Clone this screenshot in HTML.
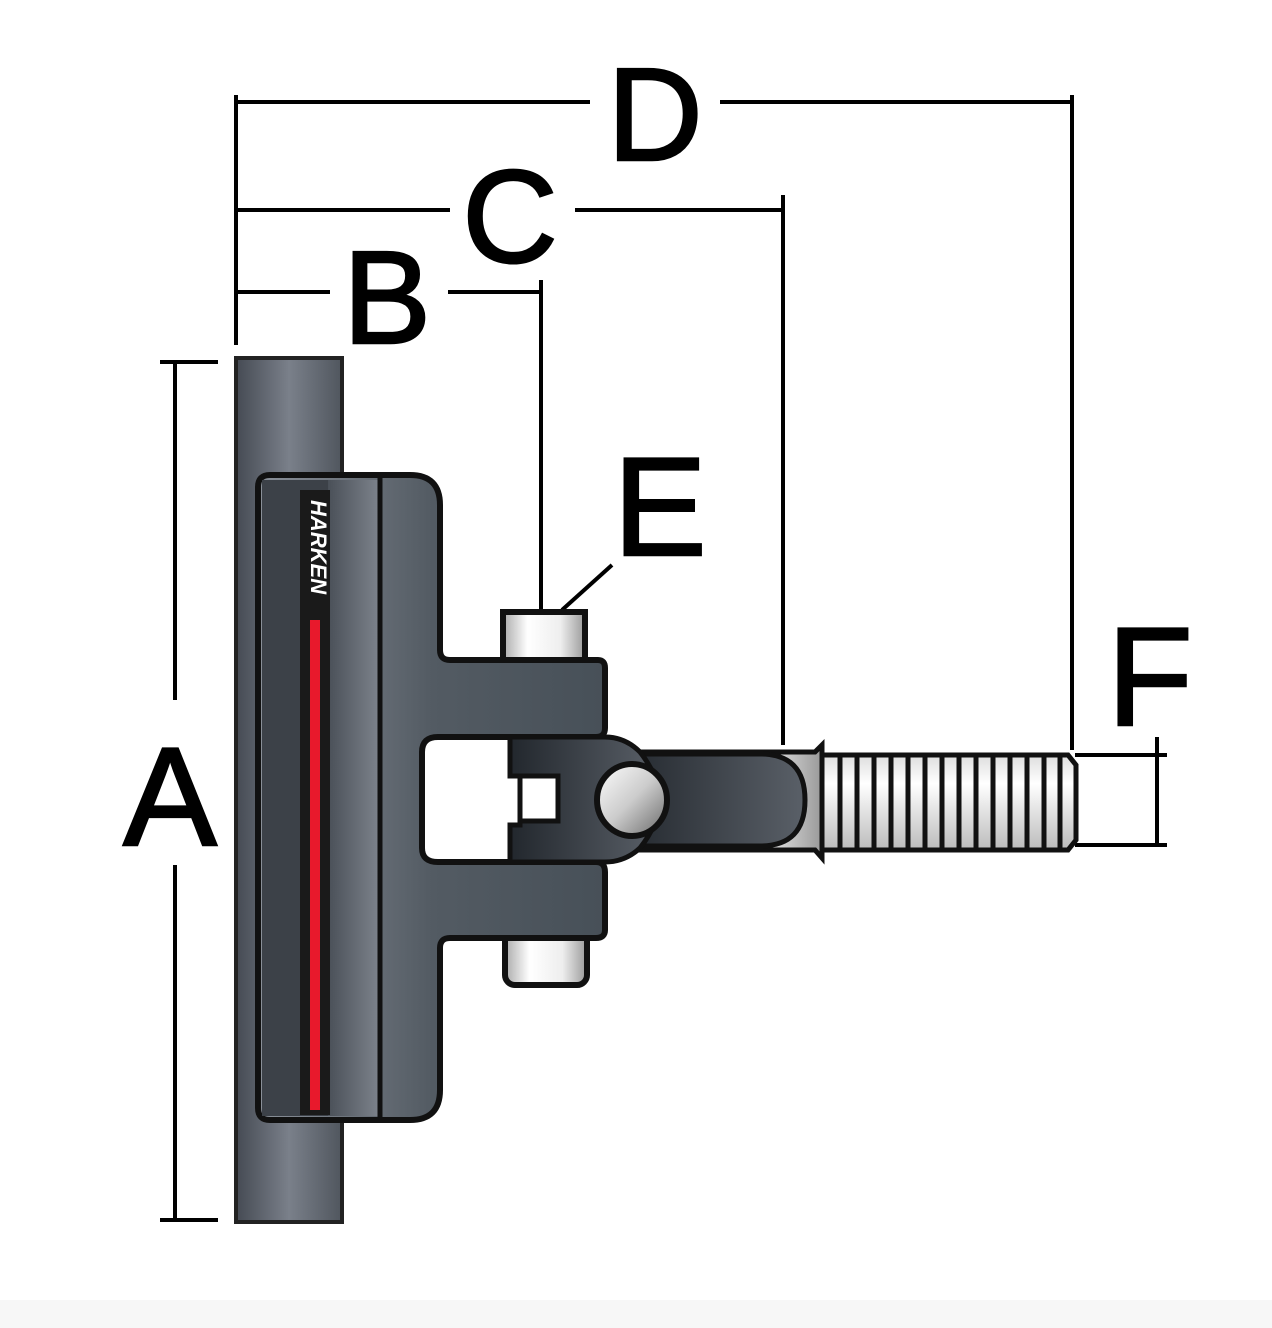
<!DOCTYPE html>
<html><head><meta charset="utf-8"><style>
html,body{margin:0;padding:0;background:#fff;}
svg{display:block;}
text{font-family:"Liberation Sans",sans-serif;fill:#000;}
.lbl{stroke:#000;stroke-width:2.5;}
</style></head><body>
<svg width="1272" height="1328" viewBox="0 0 1272 1328" xmlns="http://www.w3.org/2000/svg">
<defs>
<linearGradient id="tube" x1="0" x2="1"><stop offset="0" stop-color="#454a53"/><stop offset="0.5" stop-color="#7a808a"/><stop offset="1" stop-color="#50565e"/></linearGradient>
<linearGradient id="arm" x1="0" x2="1"><stop offset="0" stop-color="#8a9099"/><stop offset="0.5" stop-color="#535b63"/><stop offset="1" stop-color="#475058"/></linearGradient>
<linearGradient id="strip" x1="0" x2="1"><stop offset="0" stop-color="#4a5058"/><stop offset="1" stop-color="#7d838c"/></linearGradient>
<linearGradient id="dark" x1="0" x2="1"><stop offset="0" stop-color="#22272d"/><stop offset="1" stop-color="#5a6068"/></linearGradient>
<linearGradient id="metal" x1="0" x2="1"><stop offset="0" stop-color="#aaa"/><stop offset="0.3" stop-color="#fff"/><stop offset="0.7" stop-color="#eee"/><stop offset="1" stop-color="#999"/></linearGradient>
<linearGradient id="rod" x1="0" y1="0" x2="0" y2="1"><stop offset="0" stop-color="#ddd"/><stop offset="0.3" stop-color="#fff"/><stop offset="1" stop-color="#bbb"/></linearGradient>
<linearGradient id="ball" x1="0" y1="0" x2="1" y2="1"><stop offset="0" stop-color="#fff"/><stop offset="0.5" stop-color="#ccc"/><stop offset="1" stop-color="#666"/></linearGradient>
</defs>
<g stroke="#000" stroke-width="4" fill="none">
<line x1="236" y1="102" x2="590" y2="102"/><line x1="720" y1="102" x2="1072" y2="102"/>
<line x1="236" y1="95" x2="236" y2="345"/>
<line x1="1072" y1="95" x2="1072" y2="750"/>
<line x1="236" y1="210" x2="450" y2="210"/><line x1="575" y1="210" x2="783" y2="210"/>
<line x1="783" y1="195" x2="783" y2="745"/>
<line x1="236" y1="292" x2="330" y2="292"/><line x1="448" y1="292" x2="541" y2="292"/>
<line x1="541" y1="280" x2="541" y2="612"/>
<line x1="160" y1="362" x2="218" y2="362"/><line x1="160" y1="1220" x2="218" y2="1220"/>
<line x1="175" y1="362" x2="175" y2="700"/><line x1="175" y1="865" x2="175" y2="1220"/>
<line x1="612" y1="565" x2="562" y2="610"/>
<line x1="1075" y1="755" x2="1167" y2="755"/><line x1="1075" y1="845" x2="1167" y2="845"/>
<line x1="1157" y1="737" x2="1157" y2="845"/>
</g>
<text class="lbl" x="655" y="160" font-size="132" text-anchor="middle">D</text>
<text class="lbl" x="510" y="262" font-size="132" text-anchor="middle">C</text>
<text class="lbl" x="387" y="343" font-size="132" text-anchor="middle">B</text>
<text class="lbl" x="170" y="845" font-size="140" text-anchor="middle">A</text>
<text class="lbl" x="660" y="555" font-size="140" text-anchor="middle">E</text>
<text class="lbl" x="1150" y="725" font-size="140" text-anchor="middle">F</text>
<rect x="236" y="358" width="106" height="864" fill="url(#tube)" stroke="#222" stroke-width="4"/>
<rect x="503" y="612" width="82" height="52" fill="url(#metal)" stroke="#111" stroke-width="6"/>
<rect x="505" y="930" width="82" height="55" rx="10" fill="url(#metal)" stroke="#111" stroke-width="6"/>
<path d="M270,475 H410 Q440,475 440,505 V650 Q440,660 450,660 H598 Q605,660 605,668 V728 Q605,737 596,737 H438 Q422,737 422,752 V848 Q422,862 438,862 H596 Q605,862 605,872 V930 Q605,938 596,938 H450 Q440,938 440,948 V1090 Q440,1120 410,1120 H270 Q258,1120 258,1108 V487 Q258,475 270,475 Z" fill="url(#arm)" stroke="#111" stroke-width="6"/>
<rect x="262" y="480" width="118" height="636" fill="#3c4148"/>
<rect x="328" y="480" width="52" height="636" fill="url(#strip)"/>
<rect x="300" y="490" width="30" height="625" fill="#1a1a1a"/>
<rect x="310" y="620" width="10" height="490" fill="#e8192c"/>
<line x1="380" y1="478" x2="380" y2="1118" stroke="#111" stroke-width="5"/>
<text transform="translate(311,500) rotate(90)" font-size="22" font-weight="bold" font-style="italic" style="fill:#fff">HARKEN</text>
<path d="M822,755 H1068 L1076,765 V840 L1068,850 H822 Z" fill="url(#rod)" stroke="#111" stroke-width="5"/>
<g stroke="#111" stroke-width="5">
<line x1="840" y1="757" x2="840" y2="848"/><line x1="857" y1="757" x2="857" y2="848"/><line x1="874" y1="757" x2="874" y2="848"/><line x1="891" y1="757" x2="891" y2="848"/><line x1="908" y1="757" x2="908" y2="848"/><line x1="925" y1="757" x2="925" y2="848"/><line x1="942" y1="757" x2="942" y2="848"/><line x1="959" y1="757" x2="959" y2="848"/><line x1="976" y1="757" x2="976" y2="848"/><line x1="993" y1="757" x2="993" y2="848"/><line x1="1010" y1="757" x2="1010" y2="848"/><line x1="1027" y1="757" x2="1027" y2="848"/><line x1="1044" y1="757" x2="1044" y2="848"/><line x1="1060" y1="757" x2="1060" y2="848"/>
</g>
<path d="M620,752 H815 L822,745 V858 L815,850 H620 Z" fill="url(#metal)" stroke="#111" stroke-width="5"/>
<path d="M620,754 H760 Q805,754 805,800 Q805,846 760,846 H620 Z" fill="url(#dark)" stroke="#111" stroke-width="5"/>
<path d="M510,737 H605 Q625,737 640,752 Q678,800 640,848 Q625,862 605,862 H510 V825 H520 V776 H510 Z" fill="url(#dark)" stroke="#111" stroke-width="5"/>
<rect x="520" y="776" width="38" height="45" fill="#fff" stroke="#111" stroke-width="5"/>
<ellipse cx="632" cy="800" rx="35" ry="36" fill="url(#ball)" stroke="#111" stroke-width="6"/>
<rect x="0" y="1300" width="1272" height="28" fill="#f7f7f7"/>
</svg>
</body></html>
